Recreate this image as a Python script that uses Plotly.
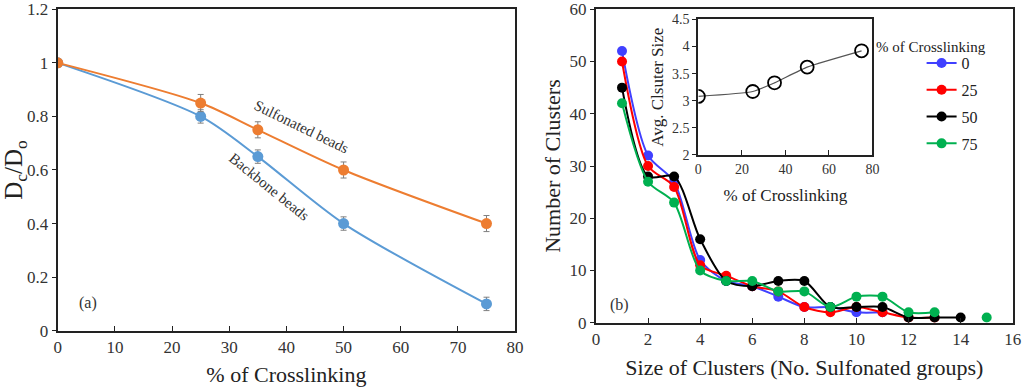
import plotly.graph_objects as go

# ---------------- Data ----------------
# Panel (a)
xl_cross = [0, 25, 35, 50, 75]
sulfonated = [1.0, 0.85, 0.75, 0.60, 0.40]
sulfonated_err = [0.0, 0.032, 0.03, 0.03, 0.03]
backbone = [1.0, 0.80, 0.65, 0.40, 0.10]
backbone_err = [0.0, 0.025, 0.025, 0.025, 0.025]

# Panel (b)
size_0 = [1, 2, 3, 4, 5, 6, 7, 8, 9, 10, 11]
count_0 = [52, 32, 27, 12, 8, 7, 5, 3, 3, 2, 2]
size_25 = [1, 2, 3, 4, 5, 6, 7, 8, 9, 10, 11, 12, 13]
count_25 = [50, 30, 26, 11, 9, 7, 6, 3, 2, 3, 2, 1, 1]
size_50 = [1, 2, 3, 4, 5, 6, 7, 8, 9, 10, 11, 12, 13, 14]
count_50 = [45, 28, 28, 16, 8, 7, 8, 8, 3, 3, 3, 1, 1, 1]
size_75 = [1, 2, 3, 4, 5, 6, 7, 8, 9, 10, 11, 12, 13, 14, 15]
count_75 = [42, 27, 23, 10, 8, 8, 6, 6, 3, 5, 5, 2, 2, None, 1]

# Inset
inset_cross = [0, 25, 35, 50, 75]
avg_size = [3.08, 3.17, 3.33, 3.62, 3.92]

SERIF = "Times New Roman, Liberation Serif, serif"
ORANGE = "#ED7D31"
LBLUE = "#5B9BD5"

fig = go.Figure()

# ---- panel (a) ----
fig.add_trace(go.Scatter(
    x=xl_cross, y=backbone, mode="lines+markers", xaxis="x", yaxis="y",
    line=dict(color=LBLUE, width=2, shape="spline", smoothing=0.8),
    marker=dict(color=LBLUE, size=11),
    error_y=dict(type="data", array=backbone_err, color="#7f7f7f", thickness=1, width=3),
    showlegend=False))
fig.add_trace(go.Scatter(
    x=xl_cross, y=sulfonated, mode="lines+markers", xaxis="x", yaxis="y",
    line=dict(color=ORANGE, width=2, shape="spline", smoothing=0.8),
    marker=dict(color=ORANGE, size=11),
    error_y=dict(type="data", array=sulfonated_err, color="#7f7f7f", thickness=1, width=3),
    showlegend=False))

# ---- panel (b) ----
series = [
    ("0", size_0, count_0, "#4040FF"),
    ("25", size_25, count_25, "#FF0000"),
    ("50", size_50, count_50, "#000000"),
    ("75", size_75, count_75, "#00B050"),
]
for i, (name, xs, ys, col) in enumerate(series):
    fig.add_trace(go.Scatter(
        x=xs, y=ys, name=name, mode="lines+markers", xaxis="x2", yaxis="y2",
        line=dict(color=col, width=2, shape="spline", smoothing=0.8),
        marker=dict(color=col, size=10), connectgaps=False,
        legendgroup="g" + name))

# ---- inset ----
fig.add_trace(go.Scatter(
    x=inset_cross, y=avg_size, mode="lines+markers", xaxis="x3", yaxis="y3",
    line=dict(color="#555555", width=1.2, shape="spline", smoothing=0.5),
    marker=dict(symbol="circle-open", color="#000000", size=13, line=dict(width=1.8)),
    showlegend=False))


def ax(size=17, **kw):
    d = dict(showline=True, linecolor="#222222", linewidth=2, mirror=True,
             showgrid=False, zeroline=False, ticklen=5, tickcolor="#222222",
             automargin=False,
             tickfont=dict(family=SERIF, size=size, color="#333333"))
    d.update(kw)
    return d


fig.update_layout(
    width=1024, height=387,
    margin=dict(l=0, r=0, t=0, b=0),
    paper_bgcolor="white", plot_bgcolor="white",
    font=dict(family=SERIF, color="#222222"),
    xaxis=ax(domain=[0.0564, 0.503], range=[0, 80], dtick=10, ticks="inside",
             title=dict(text="% of Crosslinking", font=dict(family=SERIF, size=22), standoff=13),
             anchor="y"),
    yaxis=ax(domain=[0.1455, 0.976], range=[0, 1.2], dtick=0.2, ticks="outside", ticklen=4,
             title=dict(text="D<sub>c</sub>/D<sub>o</sub>", font=dict(family=SERIF, size=25), standoff=8),
             anchor="x"),
    xaxis2=ax(domain=[0.582, 0.989], range=[0, 16], dtick=2, ticks="inside",
              title=dict(text="Size of Clusters (No. Sulfonated groups)", font=dict(family=SERIF, size=22), standoff=11),
              anchor="y2"),
    yaxis2=ax(domain=[0.166, 0.976], range=[0, 60], dtick=10, ticks="outside", ticklen=4,
              title=dict(text="Number of Clusters", font=dict(family=SERIF, size=22), standoff=3),
              anchor="x2"),
    xaxis3=ax(size=14, domain=[0.682, 0.852], range=[0, 80], dtick=20, ticks="inside",
              title=dict(text="% of Crosslinking", font=dict(family=SERIF, size=17), standoff=13),
              anchor="y3"),
    yaxis3=ax(size=14, domain=[0.5995, 0.950], range=[2, 4.5], dtick=0.5, ticks="outside", ticklen=4,
              title=dict(text="Avg. Clsuter Size", font=dict(family=SERIF, size=17), standoff=4),
              anchor="x3"),
    legend=dict(x=0.90, y=0.881, xanchor="left", yanchor="top",
                font=dict(family=SERIF, size=16, color="#222222"),
                tracegroupgap=3, itemwidth=30, bgcolor="rgba(0,0,0,0)"),
    annotations=[
        dict(text="% of Crosslinking", xref="paper", yref="paper", x=0.909, y=0.878,
             xanchor="center", yanchor="middle", showarrow=False,
             font=dict(family=SERIF, size=15, color="#222222")),
        dict(text="Sulfonated beads", xref="x", yref="y", x=42.7, y=0.76, textangle=26,
             showarrow=False, font=dict(family=SERIF, size=15, color="#333333")),
        dict(text="Backbone beads", xref="x", yref="y", x=37.0, y=0.536, textangle=39,
             showarrow=False, font=dict(family=SERIF, size=15, color="#333333")),
        dict(text="(a)", xref="x", yref="y", x=5.3, y=0.103,
             showarrow=False, font=dict(family=SERIF, size=16, color="#333333")),
        dict(text="(b)", xref="x2", yref="y2", x=0.92, y=3.4,
             showarrow=False, font=dict(family=SERIF, size=16, color="#333333")),
    ],
)

fig.write_html("out.html", config={"displayModeBar": False},
               post_script="document.body.style.margin='0px';")
